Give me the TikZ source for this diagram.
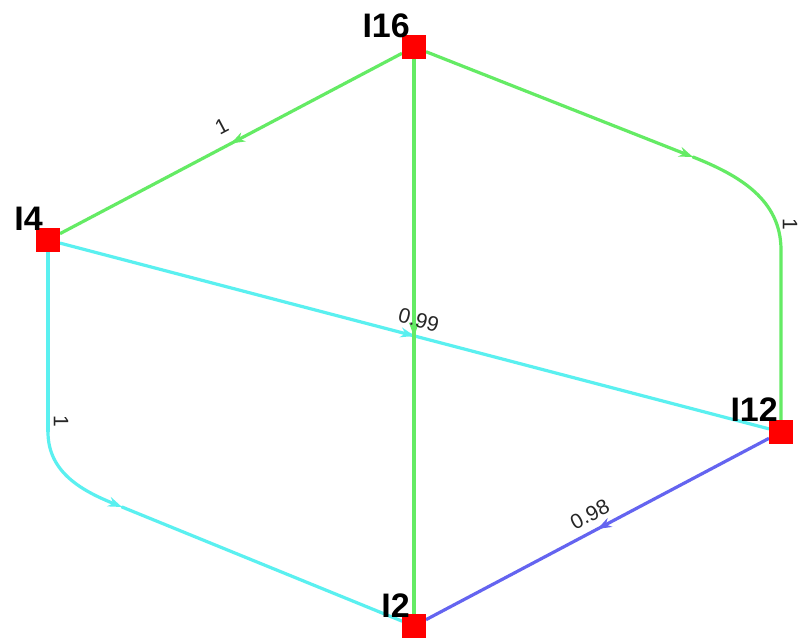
\documentclass[tikz,border=0pt]{standalone}
\usepackage{fontspec}
\setmainfont{Liberation Sans}
\usetikzlibrary{arrows.meta,decorations.markings,positioning}
\definecolor{eg}{RGB}{100,235,100}
\definecolor{ec}{RGB}{90,240,240}
\definecolor{eb}{RGB}{100,100,240}
\tikzset{
  sq/.style={rectangle,fill=red,minimum size=24pt,inner sep=0pt,outer sep=0pt},
  nlab/.style={inner sep=0pt,font=\fontsize{34}{34}\selectfont\bfseries,anchor=south east},
  elab/.style={inner sep=0pt,font=\fontsize{21}{21}\selectfont,text=black!85},
  ar/.style={-{Stealth[length=14pt,width=10pt]}},
  mid/.style={postaction={decorate},decoration={markings,mark=at position 0.5 with {\arrow{Stealth[length=14pt,width=10pt]}}}},
  gline/.style={draw=eg,line width=3.2pt},
  cline/.style={draw=ec,line width=3.2pt},
  bline/.style={draw=eb,line width=3.2pt},
}
\begin{document}
\begin{tikzpicture}[x=1pt,y=1pt]
\useasboundingbox (0,0) rectangle (798,639);
\fill[white] (0,0) rectangle (798,639);
% node positions
\node[sq] (I16) at (414,592) {};
\node[sq] (I4) at (48,399) {};
\node[sq] (I12) at (781,207) {};
\node[sq] (I2) at (414,13) {};
% bend points
\coordinate (g1) at (693,482);
\coordinate (g2) at (781,389);
\coordinate (c1) at (48,207);
\coordinate (c2) at (122,132);
% edges
\draw[gline,mid] (I16) -- node[elab,sloped,above=11pt] (l164) {1} (I4);
\draw[gline,ar] (I16) -- (g1);
\draw[gline,line cap=round] (g1) to[out=-21.6,in=90] (g2) -- (I12);
\draw[cline] (I4) -- (c1);
\draw[cline,ar] (c1) to[out=-90,in=157.8] (c2);
\draw[cline,line cap=round] (c2) -- (I2);
\draw[cline,mid] (I4) -- (I12);
\draw[gline,mid] (I16) -- (I2);
\path (I4) -- node[elab,sloped,above=9pt] (l412) {0.99} (I12);
\draw[bline,mid] (I12) -- node[elab,sloped,above=7.5pt] (l122) {0.98} (I2);
\node[elab,rotate=-90] (l1612) at (790,415) {1};
\node[elab,rotate=-90] (l42) at (61,218) {1};
% squares on top
\node[sq] at (I16) {};
\node[sq] at (I4) {};
\node[sq] at (I12) {};
\node[sq] at (I2) {};
% node labels
\node[nlab] (t16) at ([shift={(8pt,-3pt)}]I16.north west) {I16};
\node[nlab] (t4) at ([shift={(7pt,-3pt)}]I4.north west) {I4};
\node[nlab] (t12) at ([shift={(9pt,-2pt)}]I12.north west) {I12};
\node[nlab] (t2) at ([shift={(8pt,-4pt)}]I2.north west) {I2};
\end{tikzpicture}
\end{document}
